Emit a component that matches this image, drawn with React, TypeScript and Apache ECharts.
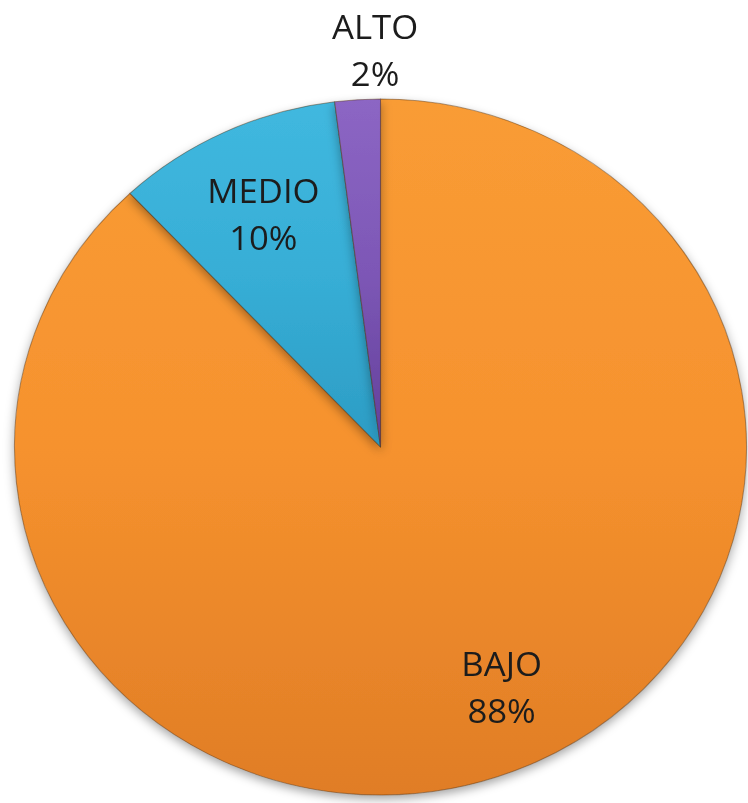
import React, { useEffect, useRef } from "react";
import * as echarts from "echarts";

const categories = ["BAJO", "MEDIO", "ALTO"];
const values = [88, 10, 2];

// styling (kept apart from the data)
const topColors = ["#F99C35", "#40B8DF", "#8C66C4"];
const midColors = ["#F6922E", "#37AED6", "#7D57B6"];
const bottomColors = ["#E07D26", "#2C9CC4", "#62409A"];
const labelOffsets: [number, number][] = [
  [50, 75],
  [-36, -73],
  [6, -221],
];

const STRETCH = 1.0517;
const W = 748 / STRETCH;

export default function App() {
  const ref = useRef<HTMLDivElement>(null);
  useEffect(() => {
    if (!ref.current) return;
    const chart = echarts.init(ref.current, null, { renderer: "svg" });
    const data = categories.map((name, i) => ({
      name,
      value: values[i],
      itemStyle: {
        color: new echarts.graphic.LinearGradient(0, 0, 0, 1, [
          { offset: 0, color: topColors[i] },
          { offset: 0.5, color: midColors[i] },
          { offset: 1, color: bottomColors[i] },
        ]),
      },
      label: { offset: labelOffsets[i] },
    }));
    chart.setOption({
      animation: false,
      backgroundColor: "#ffffff",
      series: [
        {
          type: "pie",
          center: [380.5 / STRETCH, 447],
          radius: 348,
          startAngle: 90,
          clockwise: true,
          data,
          itemStyle: {
            borderColor: "rgba(80,45,10,0.45)",
            borderWidth: 1,
            shadowBlur: 10,
            shadowOffsetY: 4,
            shadowColor: "rgba(0,0,0,0.35)",
          },
          label: {
            show: true,
            position: "inside",
            formatter: (p: any) => `${p.name}\n${p.value}%`,
            fontFamily: "Open Sans",
            fontSize: 33,
            lineHeight: 47,
            color: "#1c1c1c",
            align: "center",
          },
          labelLine: { show: false },
          emphasis: { disabled: true },
        },
      ],
    });
    return () => chart.dispose();
  }, []);
  return (
    <div
      style={{
        position: "fixed",
        left: 0,
        top: 0,
        width: 748,
        height: 803,
        background: "#fff",
        overflow: "hidden",
      }}
    >
      <div
        ref={ref}
        style={{
          width: W,
          height: 803,
          transform: `scaleX(${STRETCH})`,
          transformOrigin: "0 0",
        }}
      />
    </div>
  );
}
